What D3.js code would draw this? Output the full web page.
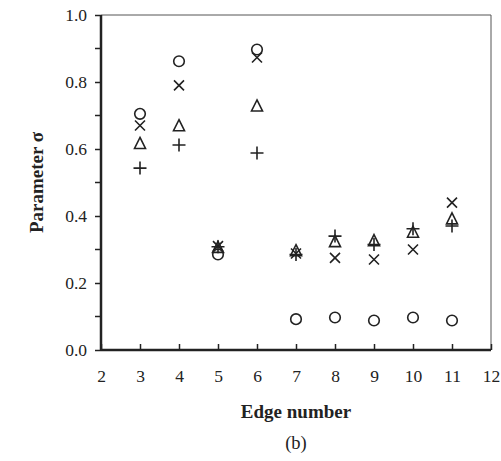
<!DOCTYPE html>
<html>
<head>
<meta charset="utf-8">
<script src="https://cdn.jsdelivr.net/npm/d3@7"></script>
<style>
  body { margin: 0; background: #fff; }
  svg text { font-family: 'Liberation Serif', Times, serif !important; fill: #222; }
</style>
</head>
<body>
<div id="chart"></div>
<script>
// Edge numbers on the x axis
const edges = [3, 4, 5, 6, 7, 8, 9, 10, 11];

// Four series, one marker shape each
const circleVals   = [0.705, 0.862, 0.285, 0.897, 0.092, 0.097, 0.088, 0.097, 0.088];
const crossVals    = [0.670, 0.790, 0.310, 0.873, 0.288, 0.275, 0.270, 0.300, 0.440];
const triangleVals = [0.615, 0.668, 0.305, 0.727, 0.295, 0.322, 0.325, 0.350, 0.390];
const plusVals     = [0.543, 0.612, 0.308, 0.588, 0.285, 0.340, 0.315, 0.362, 0.370];

const xTicks = [2, 3, 4, 5, 6, 7, 8, 9, 10, 11, 12];
const yTicks = [0, 0.2, 0.4, 0.6, 0.8, 1.0];
const yMinor = [0.1, 0.3, 0.5, 0.7, 0.9];

const width = 501, height = 461;
const margin = { left: 101, right: 10, top: 15, bottom: 111 };

const svg = d3.select('#chart').append('svg')
    .attr('width', width)
    .attr('height', height);

const x = d3.scaleLinear().domain([2, 12]).range([margin.left, width - margin.right]);
const y = d3.scaleLinear().domain([0, 1]).range([height - margin.bottom, margin.top]);

// frame: thin top and right borders
svg.append('path')
    .attr('d', `M${x(2)},${y(1)}H${x(12)}V${y(0)}`)
    .attr('fill', 'none')
    .attr('stroke', '#555')
    .attr('stroke-width', 1);

// y axis with outward ticks
const yAxis = svg.append('g')
    .attr('transform', `translate(${x(2)},0)`)
    .call(d3.axisLeft(y).tickValues(yTicks).tickFormat(d3.format('.1f')).tickSize(6).tickPadding(8));
yAxis.append('g').selectAll('line')
    .data(yMinor)
    .join('line')
    .attr('x1', -6).attr('x2', 0)
    .attr('y1', d => y(d)).attr('y2', d => y(d))
    .attr('stroke', '#222').attr('stroke-width', 1.5);

// x axis with inward ticks
const xAxis = svg.append('g')
    .attr('transform', `translate(0,${y(0)})`)
    .call(d3.axisBottom(x).tickValues(xTicks).tickFormat(d3.format('d')).tickSizeInner(-6).tickSizeOuter(0).tickPadding(20));

[xAxis, yAxis].forEach(a => {
    a.attr('font-family', null);
    a.select('.domain').attr('stroke', '#222').attr('stroke-width', 2.5);
    a.selectAll('.tick line').attr('stroke', '#222').attr('stroke-width', 1.5);
    a.selectAll('.tick text')
        .attr('font-size', 17.5)
        .attr('fill', '#222');
});
xAxis.select('.domain').attr('d', `M${x(2)},0H${x(12)}`);
yAxis.select('.domain').attr('d', `M0,${y(1)}V${y(0)}`);

// markers
const marks = svg.append('g')
    .attr('fill', 'none')
    .attr('stroke', '#222')
    .attr('stroke-width', 1.6);

marks.selectAll('circle.c')
    .data(edges.map((e, i) => [e, circleVals[i]]))
    .join('circle')
    .attr('class', 'c')
    .attr('cx', d => x(d[0]))
    .attr('cy', d => y(d[1]))
    .attr('r', 5.3);

const s = 5;
marks.selectAll('path.x')
    .data(edges.map((e, i) => [e, crossVals[i]]))
    .join('path')
    .attr('class', 'x')
    .attr('d', d => {
        const cx = x(d[0]), cy = y(d[1]);
        return `M${cx - s},${cy - s}L${cx + s},${cy + s}M${cx - s},${cy + s}L${cx + s},${cy - s}`;
    });

marks.selectAll('path.t')
    .data(edges.map((e, i) => [e, triangleVals[i]]))
    .join('path')
    .attr('class', 't')
    .attr('d', d => {
        const cx = x(d[0]), cy = y(d[1]);
        return `M${cx},${cy - 6.5}L${cx + 5.5},${cy + 4.5}L${cx - 5.5},${cy + 4.5}Z`;
    });

const p = 6.5;
marks.selectAll('path.p')
    .data(edges.map((e, i) => [e, plusVals[i]]))
    .join('path')
    .attr('class', 'p')
    .attr('d', d => {
        const cx = x(d[0]), cy = y(d[1]);
        return `M${cx - p},${cy}H${cx + p}M${cx},${cy - p}V${cy + p}`;
    });

// titles
svg.append('text')
    .attr('x', (x(2) + x(12)) / 2)
    .attr('y', 418)
    .attr('text-anchor', 'middle')
    .attr('font-size', 19)
    .attr('font-weight', 'bold')
    .text('Edge number');

svg.append('text')
    .attr('transform', `translate(43,${(y(0) + y(1)) / 2}) rotate(-90)`)
    .attr('text-anchor', 'middle')
    .attr('font-size', 19)
    .attr('font-weight', 'bold')
    .text('Parameter σ');

svg.append('text')
    .attr('x', (x(2) + x(12)) / 2)
    .attr('y', 449)
    .attr('text-anchor', 'middle')
    .attr('font-size', 18.5)
    .text('(b)');
</script>
</body>
</html>
